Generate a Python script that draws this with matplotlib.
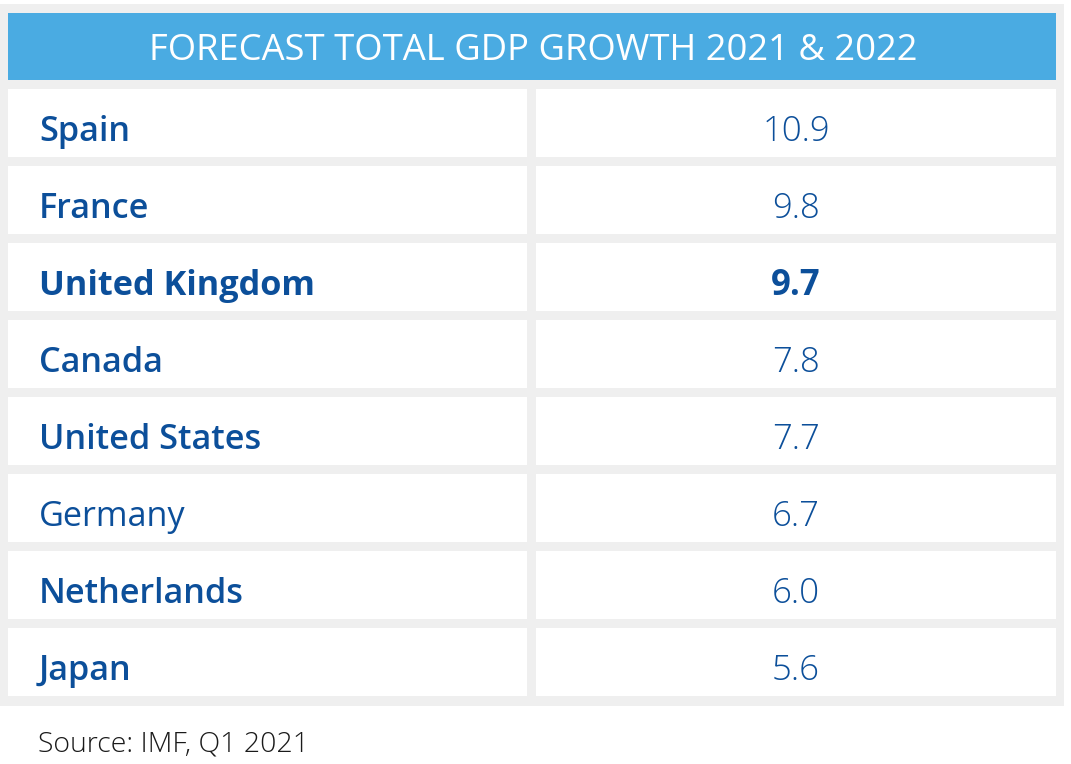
import matplotlib
matplotlib.use("Agg")
import matplotlib.pyplot as plt
from matplotlib.patches import Rectangle

title = "FORECAST TOTAL GDP GROWTH 2021 & 2022"
countries = ["Spain", "France", "United Kingdom", "Canada", "United States",
             "Germany", "Netherlands", "Japan"]
values = [10.9, 9.8, 9.7, 7.8, 7.7, 6.7, 6.0, 5.6]
name_weights = ["semibold", "semibold", "bold", "semibold", "semibold",
                "normal", "semibold", "semibold"]
value_weights = ["light", "light", "bold", "light", "light", "light", "light", "light"]
source = "Source: IMF, Q1 2021"

W, H = 1071, 764
BG_GRAY = "#efefef"
HEAD_BLUE = "#4aabe2"
TEXT_BLUE = "#0c4f9a"

fig = plt.figure(figsize=(W / 100, H / 100), dpi=100)
ax = fig.add_axes([0, 0, 1, 1])
ax.set_xlim(0, W)
ax.set_ylim(H, 0)
ax.axis("off")

# outer gray panel
ax.add_patch(Rectangle((0, 4), 1064, 702, color=BG_GRAY, lw=0))
# header
x0, x1 = 8, 1056
ax.add_patch(Rectangle((x0, 13), x1 - x0, 67, color=HEAD_BLUE, lw=0))
ax.text((x0 + x1) / 2 + 1, 51, title, color="white", fontsize=26.2, fontfamily="Open Sans",
        fontweight="normal", ha="center", va="center")

row_top0, row_pitch, row_h = 89, 77, 68
lc0, lc1 = 8, 527
rc0, rc1 = 536, 1056
for i, (c, v) in enumerate(zip(countries, values)):
    y = row_top0 + i * row_pitch
    ax.add_patch(Rectangle((lc0, y), lc1 - lc0, row_h, color="white", lw=0))
    ax.add_patch(Rectangle((rc0, y), rc1 - rc0, row_h, color="white", lw=0))
    yc = y + row_h / 2 + 9
    ax.text(39, yc, c, color=TEXT_BLUE, fontsize=24.7, fontfamily="Open Sans",
            fontweight=name_weights[i], ha="left", va="center")
    ax.text((rc0 + rc1) / 2, yc, f"{v:.1f}", color=TEXT_BLUE, fontsize=25,
            fontfamily="Open Sans", fontweight=value_weights[i], ha="center", va="center")

ax.text(38, 745, source, color="#1a1a1a", fontsize=20.5, fontfamily="Open Sans",
        fontweight="light", ha="left", va="center")

fig.savefig("out.png", dpi=100)
